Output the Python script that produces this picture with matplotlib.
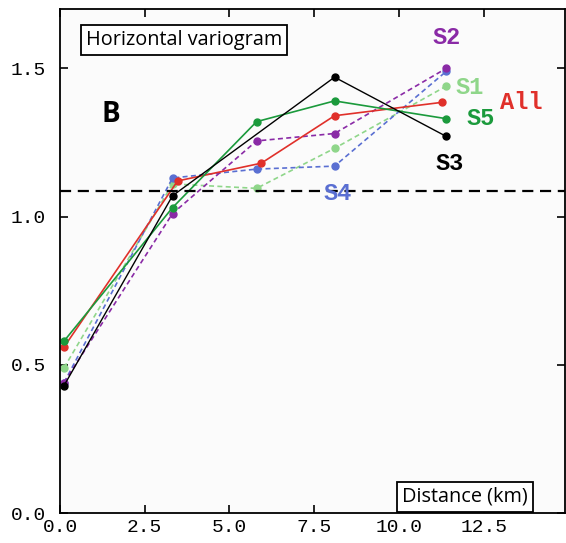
import numpy as np
import matplotlib
matplotlib.use('Agg')
import matplotlib.pyplot as plt

# lag distances (km) and variogram values
x_all = [0.12, 3.47, 5.94, 8.1, 11.26]
y_all = [0.56, 1.12, 1.18, 1.34, 1.385]

x_s1 = [0.12, 3.32, 5.8, 8.1, 11.4]
y_s1 = [0.49, 1.11, 1.095, 1.23, 1.44]

x_s2 = [0.12, 3.32, 5.8, 8.1, 11.4]
y_s2 = [0.44, 1.01, 1.255, 1.28, 1.50]

x_s3 = [0.12, 3.32, 8.1, 11.4]
y_s3 = [0.43, 1.07, 1.47, 1.27]

x_s4 = [0.12, 3.32, 5.8, 8.1, 11.4]
y_s4 = [0.44, 1.13, 1.16, 1.17, 1.49]

x_s5 = [0.12, 3.32, 5.8, 8.1, 11.4]
y_s5 = [0.58, 1.03, 1.32, 1.39, 1.33]

sill = 1.087
xticks = [0.0, 2.5, 5.0, 7.5, 10.0, 12.5]
yticks = [0.0, 0.5, 1.0, 1.5]

c_all = '#e0302a'
c_s1 = '#8fd68a'
c_s2 = '#8a2aa6'
c_s3 = '#000000'
c_s4 = '#5a6fd2'
c_s5 = '#1b9a3c'

fig = plt.figure(figsize=(5.66, 5.43), dpi=100)
ax = fig.add_axes([60/566, 30/543, 505/566, 504/543])
ax.set_facecolor('#fbfbfb')

# dashed lines first (drawn under the solid ones)
ax.plot(x_s1, y_s1, '--', color=c_s1, lw=1.2, marker='o', ms=5, dashes=(3, 2))
ax.plot(x_s4, y_s4, '--', color=c_s4, lw=1.2, marker='o', ms=5, dashes=(3, 2))
ax.plot(x_s2, y_s2, '--', color=c_s2, lw=1.2, marker='o', ms=5, dashes=(3, 2))
ax.plot(x_all, y_all, '-', color=c_all, lw=1.2, marker='o', ms=5)
ax.plot(x_s5, y_s5, '-', color=c_s5, lw=1.2, marker='o', ms=5)
ax.plot(x_s3, y_s3, '-', color=c_s3, lw=1.0, marker='o', ms=5)

ax.axhline(sill, color='black', lw=1.6, ls='--', dashes=(5, 3))

ax.set_xlim(0, 14.9)
ax.set_ylim(0, 1.7)
ax.set_xticks(xticks)
ax.set_yticks(yticks)
ax.set_xticklabels(['%.1f' % v for v in xticks])
ax.set_yticklabels(['%.1f' % v for v in yticks])
ax.tick_params(direction='in', top=True, right=True, length=6, width=1.2,
               labelsize=14)
ax.tick_params(axis='x', pad=4)
ax.tick_params(axis='y', pad=10)
for lab in ax.get_xticklabels() + ax.get_yticklabels():
    lab.set_family('Liberation Mono')
for s in ax.spines.values():
    s.set_linewidth(1.3)

mono = dict(family='Liberation Mono', weight='bold', fontsize=17)
ax.text(11.4, 1.605, 'S2', color=c_s2, ha='center', va='center', **mono)
ax.text(12.1, 1.435, 'S1', color=c_s1, ha='center', va='center', **mono)
ax.text(13.6, 1.385, 'All', color=c_all, ha='center', va='center', **mono)
ax.text(12.4, 1.33, 'S5', color=c_s5, ha='center', va='center', **mono)
ax.text(11.5, 1.18, 'S3', color=c_s3, ha='center', va='center', **mono)
ax.text(8.2, 1.077, 'S4', color=c_s4, ha='center', va='center', **mono)

ax.text(1.5, 1.345, 'B', fontsize=20, weight='bold', family='Open Sans',
        ha='center', va='center')

box = dict(boxstyle='square,pad=0.25', fc='white', ec='black', lw=1.3)
ax.text(0.76, 1.596, 'Horizontal variogram', fontsize=14.3, family='Open Sans',
        ha='left', va='center', bbox=box)
ax.text(10.09, 0.054, 'Distance (km)', fontsize=14.3, family='Open Sans',
        ha='left', va='center', bbox=box)

fig.savefig('out.png', dpi=100)
